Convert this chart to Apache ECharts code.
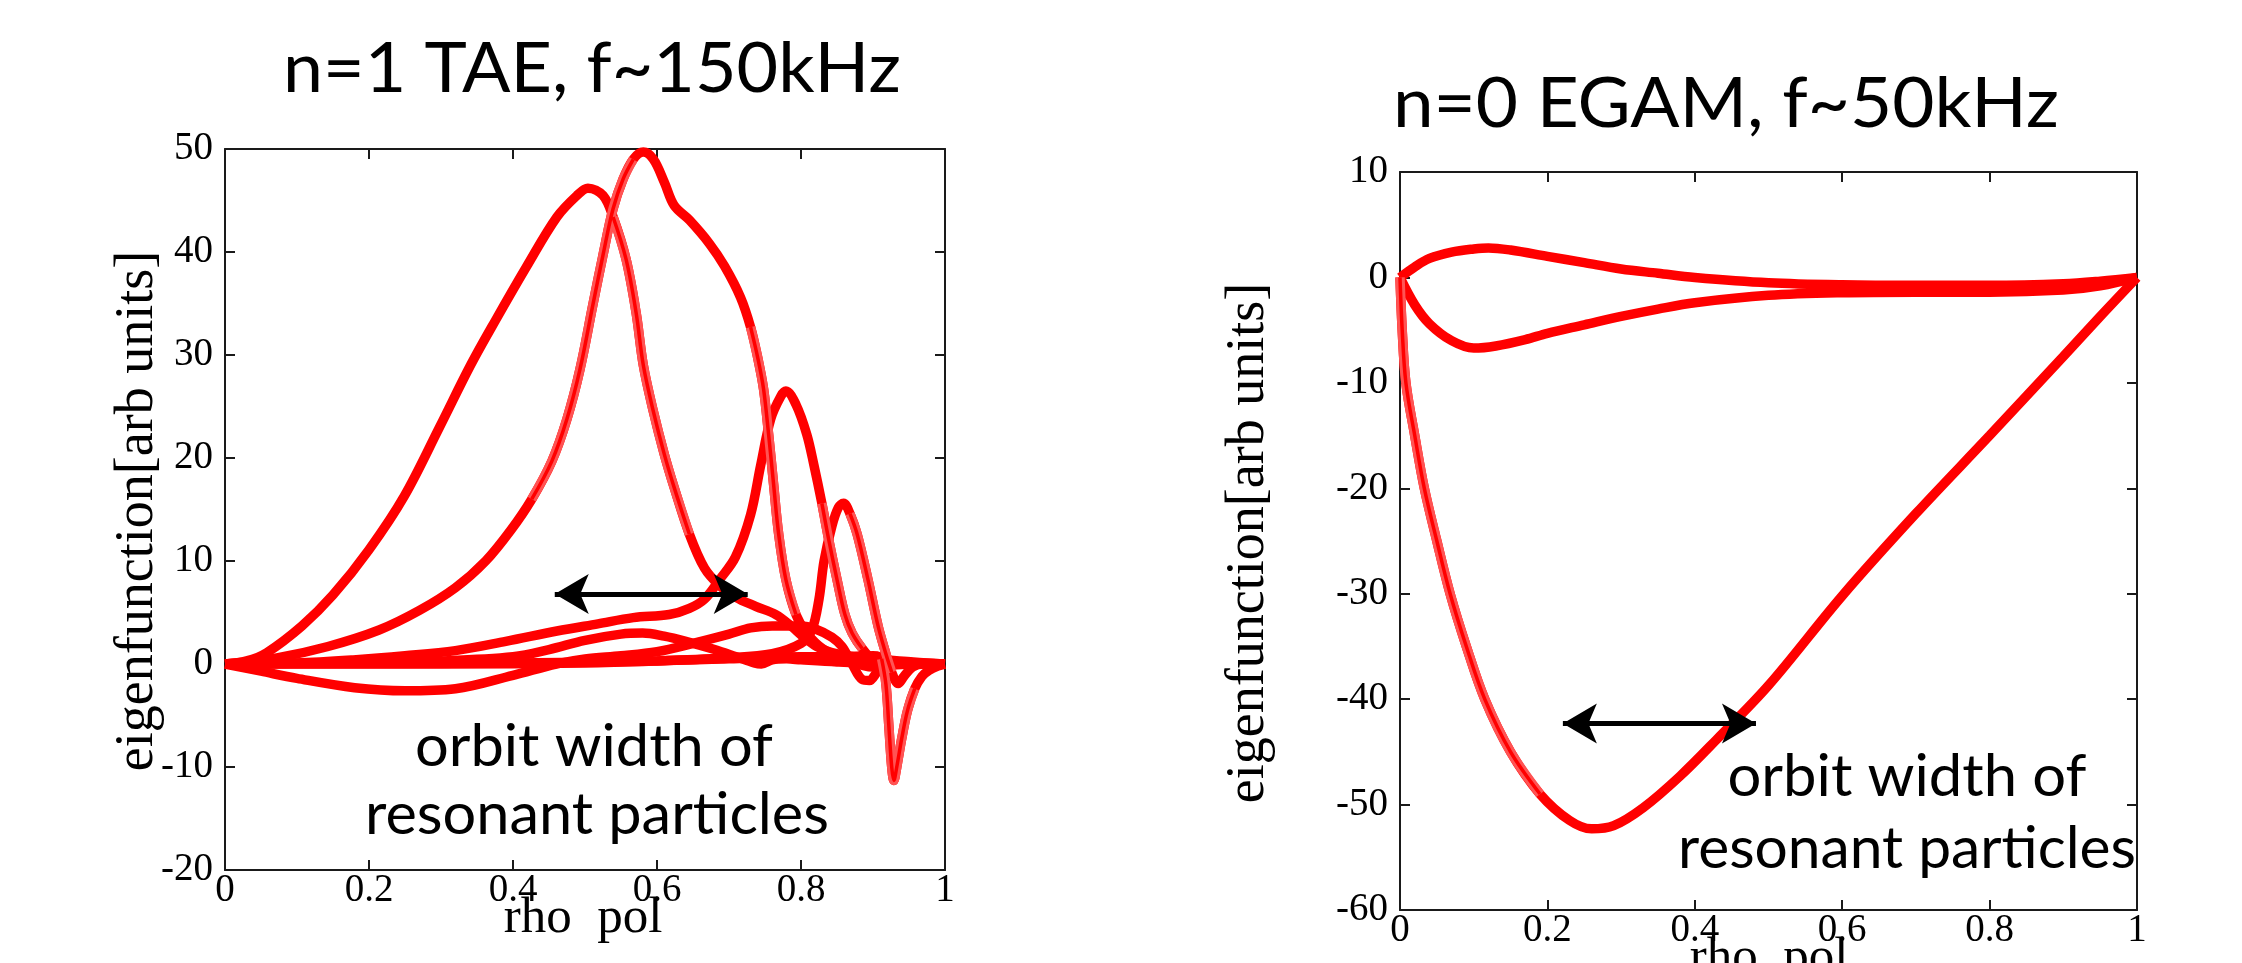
<!DOCTYPE html>
<html><head><meta charset="utf-8">
<script src="https://cdn.jsdelivr.net/npm/echarts@6/dist/echarts.min.js"></script>
<style>html,body{margin:0;padding:0;background:#fff}#c{width:2242px;height:963px}</style>
</head><body><div id="c"></div>
<script>
// ---------------- data ----------------
const titles = ['n=1 TAE, f~150kHz', 'n=0 EGAM, f~50kHz'];
const yName = 'eigenfunction[arb units]';
const xName = 'rho  pol';
const noteLines = ['orbit width of', 'resonant particles'];

// left panel: n=1 TAE, x = rho_pol, y = eigenfunction
const taeA = [[0,0],[0.03,0.3],[0.058,1.1],[0.107,3.7],[0.15,6.7],[0.2,11.1],[0.249,16.3],[0.298,23],[0.341,29],[0.376,33.4],[0.419,38.6],[0.461,43.4],[0.489,45.5],[0.504,46.2],[0.525,45.5],[0.539,43.4],[0.557,39.3],[0.571,34.1],[0.581,29],[0.595,24.5],[0.61,20.4],[0.624,17.1],[0.645,12.6],[0.666,9.3],[0.687,7.6],[0.709,6.5],[0.737,5.6],[0.765,4.8],[0.786,3.7],[0.804,2.6],[0.822,1.7],[0.843,1.1],[0.885,0.6],[0.956,0.2],[1,0]];
const taeB = [[0,0],[0.072,0.6],[0.143,1.7],[0.214,3.3],[0.27,5.2],[0.32,7.4],[0.362,10],[0.397,13],[0.426,16],[0.454,19.7],[0.475,23.8],[0.493,28.6],[0.511,34.9],[0.525,39.7],[0.539,44.2],[0.553,47.1],[0.567,49],[0.581,49.7],[0.595,49],[0.61,46.8],[0.624,44.5],[0.645,43.1],[0.673,40.8],[0.694,38.6],[0.716,35.6],[0.73,32.7],[0.74,29.7],[0.748,26.7],[0.755,22.3],[0.762,17.4],[0.769,12.6],[0.779,8.2],[0.793,4.8],[0.808,3],[0.83,1.5],[0.86,0.5],[0.9,-0.3],[0.95,0],[1,0]];
const taeC = [[0,0],[0.1,0.1],[0.178,0.4],[0.25,0.8],[0.32,1.3],[0.39,2.2],[0.461,3.2],[0.518,3.9],[0.567,4.5],[0.617,4.8],[0.645,5.4],[0.666,6.3],[0.687,8.2],[0.709,10.4],[0.73,14.5],[0.744,19.3],[0.758,23.8],[0.772,26],[0.779,26.5],[0.793,25.2],[0.808,22.3],[0.818,19.3],[0.829,15.6],[0.839,11.9],[0.85,8.2],[0.861,4.8],[0.871,3],[0.885,1.5],[0.9,0.5],[0.95,0.1],[1,0]];
const taeD = [[0,0],[0.3,0],[0.5,0.1],[0.6,0.3],[0.7,0.6],[0.76,1.0],[0.8,2.0],[0.815,3.3],[0.825,6.3],[0.832,10],[0.843,13.4],[0.852,15.2],[0.859,15.6],[0.868,14.6],[0.878,12.6],[0.893,8.2],[0.907,3.7],[0.917,1.2],[0.926,-0.8],[0.935,-1.9],[0.943,-1.2],[0.955,-0.3],[0.97,0],[1,0]];
const taeE = [[0,0],[0.4,0.1],[0.6,0.3],[0.7,0.5],[0.8,0.7],[0.85,0.7],[0.9,0.8],[0.912,0.5],[0.918,-2],[0.922,-6],[0.926,-10],[0.929,-11.3],[0.933,-10],[0.94,-7.2],[0.948,-4.5],[0.958,-2.4],[0.968,-1.2],[0.978,-0.6],[0.99,-0.2],[1,0]];
const taeF = [[0,0],[0.05,-0.7],[0.1,-1.4],[0.18,-2.3],[0.25,-2.6],[0.32,-2.4],[0.4,-1.1],[0.46,0],[0.5,0.5],[0.55,0.8],[0.6,1.2],[0.65,2.0],[0.7,2.9],[0.73,3.5],[0.76,3.7],[0.8,3.7],[0.82,3.4],[0.843,2.6],[0.857,1.7],[0.871,0],[0.885,-1.5],[0.895,-1.6],[0.907,-0.7],[0.93,0.2],[0.96,0.1],[1,0]];
const taeG = [[0,0],[0.1,0.1],[0.2,0.2],[0.3,0.3],[0.4,0.7],[0.45,1.4],[0.5,2.3],[0.55,2.9],[0.58,3.0],[0.61,2.7],[0.64,2.2],[0.68,1.4],[0.71,0.7],[0.735,0.1],[0.745,0],[0.76,0.4],[0.78,0.5],[0.8,0.4],[0.85,0.2],[0.9,0.1],[0.95,0.1],[1,0]];
const taeArrow = [[0.458, 6.8], [0.726, 6.8]];

// right panel: n=0 EGAM
const egamUpper = [[0,0],[0.02,1.0],[0.04,1.8],[0.07,2.4],[0.1,2.7],[0.12,2.8],[0.15,2.6],[0.2,2.0],[0.25,1.4],[0.3,0.8],[0.35,0.4],[0.4,0.0],[0.5,-0.5],[0.6,-0.7],[0.7,-0.75],[0.8,-0.75],[0.9,-0.6],[0.95,-0.35],[1,0]];
const egamLower = [[0,0],[0.02,-2.6],[0.04,-4.4],[0.07,-6.0],[0.1,-6.7],[0.13,-6.5],[0.17,-5.9],[0.2,-5.3],[0.25,-4.5],[0.3,-3.7],[0.35,-3.0],[0.4,-2.4],[0.5,-1.7],[0.6,-1.45],[0.7,-1.4],[0.8,-1.4],[0.9,-1.2],[0.95,-0.8],[1,0]];
const egamDeep = [[0,0],[0.003,-5],[0.008,-10],[0.02,-15],[0.033,-20],[0.05,-25],[0.068,-30],[0.09,-35],[0.115,-40],[0.15,-45],[0.19,-49],[0.23,-51.5],[0.26,-52.3],[0.29,-52],[0.33,-50.3],[0.38,-47.3],[0.43,-43.8],[0.5,-38.7],[0.6,-30.2],[0.7,-22.4],[0.8,-15],[0.9,-7.5],[0.95,-3.7],[1,0]];
const egamArrow = [[0.221, -42.3], [0.483, -42.3]];

// axis ranges / ticks
const xRange = [0, 1, 0.2];
const taeYRange = [-20, 50, 10];
const egamYRange = [-60, 10, 10];

// steep stretches that show the '+' markers of the original plot (index ranges into the arrays above)
const hatched = [
  {curve: taeB, from: 8, to: 17, g: 0},
  {curve: taeB, from: 25, to: 33, g: 0},
  {curve: taeA, from: 15, to: 23, g: 0},
  {curve: taeC, from: 22, to: 28, g: 0},
  {curve: taeD, from: 13, to: 19, g: 0},
  {curve: taeE, from: 7, to: 16, g: 0},
  {curve: egamDeep, from: 0, to: 11, g: 1}
];

// ---------------- chart ----------------
const RED = '#ff0000';
const PINK = '#ff5454';
const INK = '#1a1a1a';
const SERIF = '"Liberation Serif", "Times New Roman", serif';
const SANS = 'Lato, "Open Sans", sans-serif';
const LW = 9.5;

function fitScale(text, font, w) {
  const c = document.createElement('canvas').getContext('2d');
  c.font = font;
  return w / c.measureText(text).width;
}

const grids = [
  {left: 225, top: 149, width: 720, height: 721},
  {left: 1400, top: 172, width: 737, height: 738}
];

function xAxes(gi) {
  const base = {
    type: 'value', gridIndex: gi, min: xRange[0], max: xRange[1], interval: xRange[2],
    splitLine: {show: false},
    axisLine: {show: true, onZero: false, lineStyle: {color: INK, width: 2}},
    axisTick: {show: true, inside: true, length: 10, lineStyle: {color: INK, width: 2}}
  };
  return [
    Object.assign({}, base, {position: 'bottom',
      axisLabel: {show: true, fontFamily: SERIF, fontSize: 39, color: '#000', margin: 1}}),
    Object.assign({}, base, {position: 'top', axisLabel: {show: false}})
  ];
}
function yAxes(gi, r) {
  const base = {
    type: 'value', gridIndex: gi, min: r[0], max: r[1], interval: r[2],
    splitLine: {show: false},
    axisLine: {show: true, onZero: false, lineStyle: {color: INK, width: 2}},
    axisTick: {show: true, inside: true, length: 10, lineStyle: {color: INK, width: 2}}
  };
  return [
    Object.assign({}, base, {position: 'left',
      axisLabel: {show: true, fontFamily: SERIF, fontSize: 39, color: '#000', margin: 12, padding: [0, 0, 11, 0]}}),
    Object.assign({}, base, {position: 'right', axisLabel: {show: false}})
  ];
}

function curve(data, gi, color, width, z) {
  return {
    type: 'line', data: data, xAxisIndex: gi * 2, yAxisIndex: gi * 2,
    showSymbol: false, smooth: 0.35, clip: false, silent: true,
    lineStyle: {color: color || RED, width: width || LW}, emphasis: {disabled: true}, z: z || 3
  };
}
function arrow(pts, gi) {
  return {
    type: 'line', data: [], xAxisIndex: gi * 2, yAxisIndex: gi * 2, silent: true,
    markLine: {
      silent: true, animation: false, symbol: ['arrow', 'arrow'], symbolSize: [30, 34],
      label: {show: false}, emphasis: {disabled: true},
      lineStyle: {color: '#000', width: 5, type: 'solid'},
      data: [[{coord: pts[0]}, {coord: pts[1]}]]
    },
    z: 6
  };
}

function textEl(text, x, y, font, opts) {
  return Object.assign({
    type: 'text', x: x, y: y, silent: true,
    style: {text: text, font: font, fill: '#000', align: 'center', verticalAlign: 'middle'}
  }, opts || {});
}

const titleFont = '70px ' + SANS;
const noteFont = '59px ' + SANS;
const nameFont = '54px ' + SERIF;
const xNameFont = '51px ' + SERIF;

const graphics = [
  textEl(titles[0], 592, 69, titleFont, {scaleX: fitScale(titles[0], titleFont, 618)}),
  textEl(titles[1], 1726, 104, titleFont, {scaleX: fitScale(titles[1], titleFont, 666)}),
  textEl(yName, 138, 511, nameFont, {rotation: Math.PI / 2}),
  textEl(yName, 1249, 543, nameFont, {rotation: Math.PI / 2}),
  textEl(xName, 583, 919, xNameFont),
  textEl(xName, 1769, 959, xNameFont),
  textEl(noteLines[0], 594, 747, noteFont, {scaleX: fitScale(noteLines[0], noteFont, 358)}),
  textEl(noteLines[1], 597, 815, noteFont, {scaleX: fitScale(noteLines[1], noteFont, 464)}),
  textEl(noteLines[0], 1907, 777, noteFont, {scaleX: fitScale(noteLines[0], noteFont, 359)}),
  textEl(noteLines[1], 1907, 849, noteFont, {scaleX: fitScale(noteLines[1], noteFont, 458)})
];

const series = [
  curve(taeF, 0), curve(taeG, 0), curve(taeE, 0), curve(taeD, 0),
  curve(taeC, 0), curve(taeB, 0), curve(taeA, 0),
  curve(egamUpper, 1), curve(egamLower, 1), curve(egamDeep, 1)
];
hatched.forEach(h => {
  const seg = h.curve.slice(h.from, h.to);
  series.push(curve(seg, h.g, PINK, LW, 4));
  series.push(curve(seg, h.g, RED, 3.5, 5));
});
series.push(arrow(taeArrow, 0), arrow(egamArrow, 1));

const chart = echarts.init(document.getElementById('c'), null, {renderer: 'canvas'});
chart.setOption({
  animation: false,
  backgroundColor: '#ffffff',
  grid: grids.map(g => Object.assign({outerBoundsMode: 'none', containLabel: false}, g)),
  xAxis: xAxes(0).concat(xAxes(1)),
  yAxis: yAxes(0, taeYRange).concat(yAxes(1, egamYRange)),
  series: series,
  graphic: graphics
});
</script></body></html>
